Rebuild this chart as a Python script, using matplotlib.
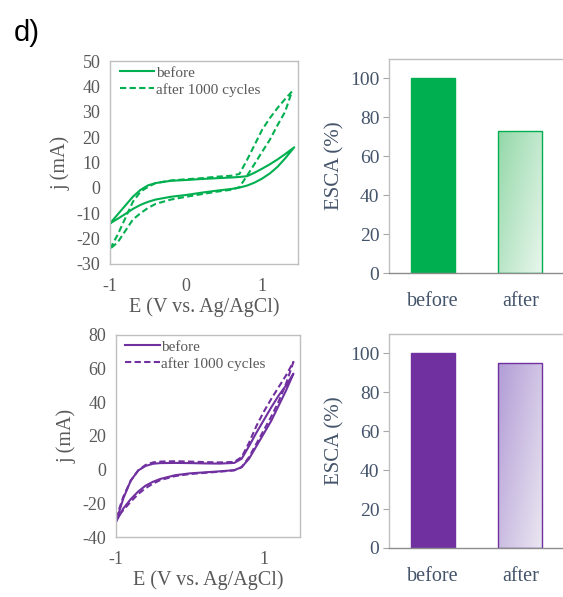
import matplotlib
matplotlib.use("Agg")
import matplotlib.pyplot as plt
import numpy as np
from matplotlib.colors import LinearSegmentedColormap

# ── data ──────────────────────────────────────────────────────────────────────
E_GRID = [-1, -0.9, -0.8, -0.7, -0.6, -0.5, -0.4, -0.2, 0, 0.2, 0.4, 0.6,
          0.7, 0.8, 0.9, 1.0, 1.1, 1.2, 1.3]

# green sample (top row)
g_E_before = E_GRID + [1.42]
g_before_up = [-14, -10.5, -7, -3.5, -0.8, 1.0, 1.9, 2.8, 3.1, 3.5, 3.8, 4.1,
               4.3, 4.6, 6.0, 7.6, 9.3, 11.2, 13.3, 16]
g_before_lo = [-14, -12.2, -10.3, -8.3, -6.7, -5.5, -4.6, -3.5, -2.8, -1.9, -1.1, -0.4,
               0.1, 0.9, 2.1, 3.7, 5.7, 8.3, 11.6, 16]
g_E_after = E_GRID + [1.39]
g_after_up = [-24, -18.5, -12, -5.5, -1.5, 0.4, 1.9, 2.9, 3.4, 3.8, 4.4, 4.8,
              5.5, 11, 17, 23, 27.5, 31.5, 35, 38]
g_after_lo = [-24, -21.5, -17, -12.5, -10, -7.9, -6.3, -4.6, -3.5, -2.5, -1.5, -0.7,
              0.3, 4.8, 9.5, 14.3, 19, 24.7, 30, 38]

# purple sample (bottom row)
p_E = E_GRID + [1.4]
p_before_up = [-31, -17, -6.5, -0.5, 2.2, 3.5, 3.9, 4.0, 3.9, 3.7, 3.6, 4.0,
               6.5, 14, 22, 29.5, 37, 44, 50, 57]
p_before_lo = [-31, -23, -17.5, -13, -9.5, -7.2, -5.5, -3.3, -2.2, -1.6, -1.0, -0.3,
               1.5, 6.5, 14, 21.5, 29, 38, 47, 57]
p_after_up = [-29, -16, -6.5, -0.5, 2.8, 4.3, 4.8, 5.0, 4.8, 4.5, 4.3, 4.6,
              7.5, 16, 26, 34.5, 42, 49, 56, 64]
p_after_lo = [-29, -24, -19, -14.5, -11, -8.3, -6.2, -3.8, -2.6, -1.9, -1.2, -0.4,
              1.5, 7.5, 15.5, 23.5, 31.5, 40.5, 51, 64]

bar_labels = ["before", "after"]
g_esca = [100, 73]
p_esca = [100, 95]

# ── style ─────────────────────────────────────────────────────────────────────
GREEN = "#00B050"
PURPLE = "#7030A0"
SPINE = "#BFBFBF"
TICK_TXT = "#595959"
BAR_TXT = "#44546A"
SERIF = "Liberation Serif"

plt.rcParams["font.family"] = SERIF
plt.rcParams["axes.unicode_minus"] = False


def loop(E, up, lo):
    x = list(E) + list(E[::-1])
    y = list(up) + list(lo[::-1])
    return x, y


def cv_panel(ax, E_b, up_b, lo_b, E_a, up_a, lo_a, color, xlim, ylim, yticks, xticks):
    x, y = loop(E_b, up_b, lo_b)
    ax.plot(x, y, color=color, lw=1.5, label="before")
    x, y = loop(E_a, up_a, lo_a)
    ax.plot(x, y, color=color, lw=1.5, ls=(0, (3, 1.6)), label="after 1000 cycles")
    ax.set_xlim(*xlim)
    ax.set_ylim(*ylim)
    ax.set_yticks(yticks)
    ax.set_xticks(xticks)
    ax.tick_params(axis="y", length=0, labelsize=13, colors=TICK_TXT, pad=7)
    ax.tick_params(axis="x", length=0, labelsize=13, colors=TICK_TXT, pad=10)
    for s in ax.spines.values():
        s.set_color(SPINE)
        s.set_linewidth(1.0)
    ax.set_xlabel("E (V vs. Ag/AgCl)", fontsize=14.5, color=TICK_TXT, labelpad=2)
    ax.set_ylabel("j (mA)", fontsize=14.5, color=TICK_TXT, labelpad=4)
    leg = ax.legend(loc="upper left", bbox_to_anchor=(0.035, 0.99), frameon=False,
                    fontsize=11, handlelength=2.25, handletextpad=0.1,
                    borderaxespad=0.0, labelspacing=0.2, borderpad=0.2)
    for t in leg.get_texts():
        t.set_color(TICK_TXT)


def bar_panel(ax, values, color, light_top, light_bot):
    bars = ax.bar(range(len(values)), values, width=0.5, color=color,
                  edgecolor=color, linewidth=1.0, zorder=2)
    # gradient fill for the "after" bar
    b = bars[1]
    b.set_facecolor("none")
    x0, y0 = b.get_x(), b.get_y()
    x1, y1 = x0 + b.get_width(), y0 + b.get_height()
    u = np.linspace(0, 1, 64)[None, :]
    v = np.linspace(0, 1, 128)[:, None]
    t = np.clip(0.55 * u + 0.45 * (1 - v), 0, 1)
    cmap = LinearSegmentedColormap.from_list("g", [light_top, light_bot])
    im = ax.imshow(t, cmap=cmap, extent=(x0, x1, y0, y1), origin="lower",
                   aspect="auto", zorder=1, vmin=0, vmax=1)
    im.set_clip_path(b)
    ax.set_xlim(-0.5, 1.5)
    ax.set_ylim(0, 110)
    ax.set_yticks([0, 20, 40, 60, 80, 100])
    ax.set_xticks(range(len(values)), bar_labels)
    ax.tick_params(axis="y", length=4, color="#A6A6A6", labelsize=14,
                   labelcolor=BAR_TXT, pad=3)
    ax.tick_params(axis="x", length=0, labelsize=14.5, labelcolor=BAR_TXT, pad=14)
    for s in ax.spines.values():
        s.set_color(SPINE)
        s.set_linewidth(1.0)
    ax.spines["right"].set_visible(False)
    ax.spines["bottom"].set_color("#8C8C8C")
    ax.set_ylabel("ESCA (%)", fontsize=15, color=BAR_TXT, labelpad=4)


fig = plt.figure(figsize=(5.63, 5.97), dpi=100)
fig.patch.set_facecolor("white")

ax1 = fig.add_axes([0.1954, 0.5578, 0.334, 0.340])
cv_panel(ax1, g_E_before, g_before_up, g_before_lo, g_E_after, g_after_up, g_after_lo,
         GREEN, (-1, 1.47), (-30, 50), range(-30, 51, 10), [-1, 0, 1])

ax2 = fig.add_axes([0.691, 0.5427, 0.311, 0.3585])
bar_panel(ax2, g_esca, GREEN, "#93D8A8", "#E8F6EC")

ax3 = fig.add_axes([0.206, 0.1005, 0.327, 0.3384])
cv_panel(ax3, p_E, p_before_up, p_before_lo, p_E, p_after_up, p_after_lo,
         PURPLE, (-1, 1.49), (-40, 80), range(-40, 81, 20), [-1, 1])

ax4 = fig.add_axes([0.691, 0.0821, 0.311, 0.3585])
bar_panel(ax4, p_esca, PURPLE, "#B29CD6", "#EAE6F1")

fig.text(0.024, 0.968, "d)", fontsize=21, family="Liberation Sans", va="top", ha="left")

fig.savefig("out.png", dpi=100)
